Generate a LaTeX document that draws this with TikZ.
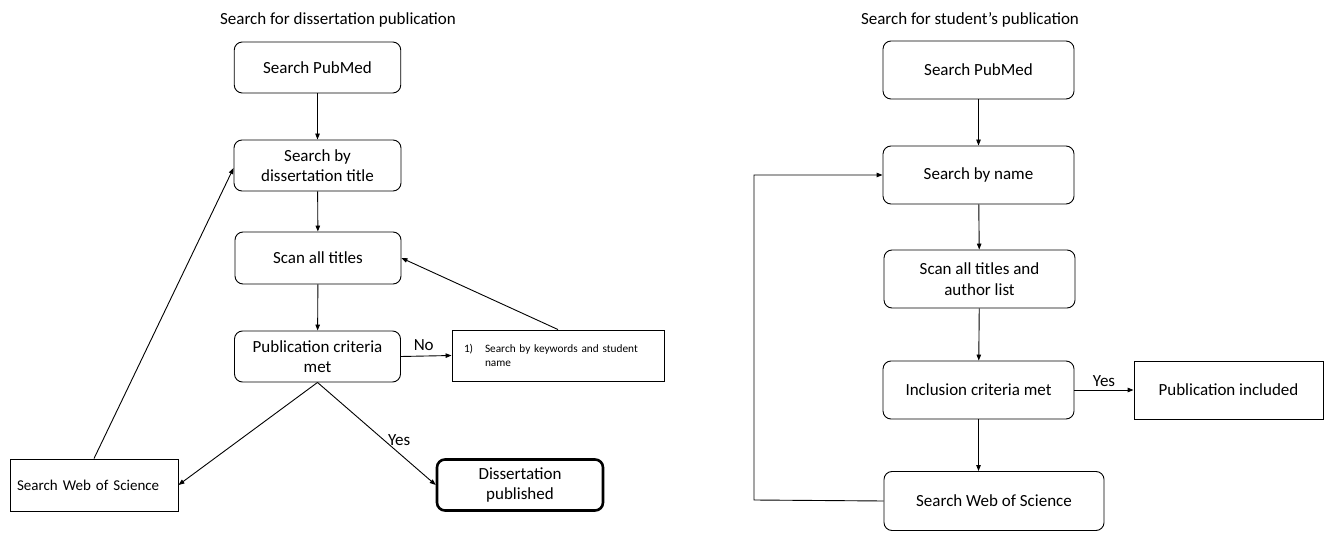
\documentclass[tikz,border=0pt]{standalone}
\usepackage{fontspec}
\setmainfont{Carlito}
\usetikzlibrary{arrows.meta}
\tikzset{
  box/.style={draw, line width=0.9pt, rounded corners=8pt, align=center, inner sep=0pt,
    font=\fontsize{17}{20.5}\selectfont},
  sqbox/.style={draw, line width=0.9pt, inner sep=0pt, font=\fontsize{17}{20.5}\selectfont},
  conn/.style={line width=0.9pt, -{Triangle[length=6pt,width=4.5pt]}},
  lbl/.style={font=\fontsize{17}{20}\selectfont, inner sep=0pt},
  ttl/.style={font=\fontsize{17}{20}\selectfont, inner sep=0pt}
}
\begin{document}
\begin{tikzpicture}[x=1pt,y=-1pt]
\useasboundingbox (0,0) rectangle (1325,534);
% left diagram
\node[ttl] (ltt) at (338,20) {Search for dissertation publication};
\node[box, minimum width=166.5pt, minimum height=51pt] (lpub) at (317.5,67.5) {Search PubMed};
\node[box, minimum width=167pt, minimum height=51pt] (ltitle) at (317.5,165.5) {Search by\\dissertation title};
\node[box, minimum width=166pt, minimum height=52pt] (lscan) at (318,258) {Scan all titles};
\node[box, minimum width=166pt, minimum height=51pt] (lcrit) at (317.5,356.5) {Publication criteria\\met};
\node[draw, line width=0.9pt, inner ysep=0pt, inner xsep=12pt, minimum width=212pt, minimum height=51pt,
  text width=188pt, align=left, font=\fontsize{11.3}{14}\selectfont] (lkey) at (558,355.5)
  {\makebox[21pt][l]{1)}Search by keywords and student\\\hspace*{21pt}name};
\node[draw, line width=0.9pt, inner ysep=0pt, inner xsep=7pt, minimum width=168pt, minimum height=52pt,
  text width=154pt, align=left, font=\fontsize{15}{18}\selectfont] (lwos) at (94,485) {Search Web of Science};
\node[box, line width=2.6pt, minimum width=166pt, minimum height=51pt] (lpubd) at (520,485) {Dissertation\\published};

\draw[conn] (lpub) -- (ltitle);
\draw[conn] (ltitle) -- (lscan);
\draw[conn] (lscan) -- (lcrit);
\draw[conn] (lcrit.east) -- (lkey.west) node[lbl, pos=0.45, above=5pt] {No};
\draw[conn] (lkey.north) -- (lscan.east);
\draw[conn] (lcrit.south) -- (lwos.east);
\draw[conn] (lcrit.south) -- (lpubd.west) node[lbl, pos=0.56, right=4pt] {Yes};
\draw[conn] (lwos.north) -- ([yshift=-2.5pt]ltitle.west);

% right diagram
\node[ttl] (rtt) at (970,20) {Search for student’s publication};
\node[box, minimum width=191pt, minimum height=58pt] (rpub) at (978.5,70) {Search PubMed};
\node[box, minimum width=191pt, minimum height=58pt] (rname) at (978.5,175) {Search by name};
\node[box, minimum width=191pt, minimum height=58pt] (rscan) at (979.5,279) {Scan all titles and\\author list};
\node[box, minimum width=191pt, minimum height=58pt] (rcrit) at (978.5,390) {Inclusion criteria met};
\node[sqbox, minimum width=189pt, minimum height=58pt] (rinc) at (1228.5,390) {Publication included};
\node[box, minimum width=220pt, minimum height=59pt] (rwos) at (994,501) {Search Web of Science};
\coordinate (rloop) at (754,500);

\draw[conn] (rpub) -- (rname);
\draw[conn] (rname) -- (rscan);
\draw[conn] (rscan) -- (rcrit);
\draw[conn] (rcrit.east) -- (rinc.west) node[lbl, midway, above=3pt] {Yes};
\draw[conn] (rcrit.south) -- (rcrit.south |- rwos.north);
\draw[conn] (rwos.west) -- (rloop) |- (rname.west);
\end{tikzpicture}
\end{document}
